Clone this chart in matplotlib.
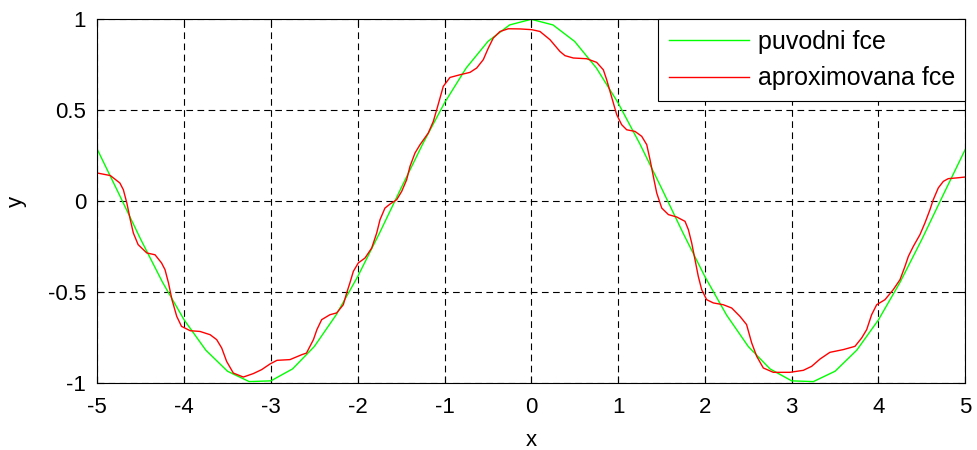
import matplotlib

matplotlib.use("Agg")

import matplotlib.pyplot as plt
import numpy as np


# original function
X_ORIG = [-5.0, -4.75, -4.5, -4.25, -4.0, -3.75, -3.5, -3.25, -3.0, -2.75,
          -2.5, -2.25, -2.0, -1.75, -1.5, -1.25, -1.0, -0.75, -0.5, -0.25,
          0.0, 0.25, 0.5, 0.75, 1.0, 1.25, 1.5, 1.75, 2.0, 2.25,
          2.5, 2.75, 3.0, 3.25, 3.5, 3.75, 4.0, 4.25, 4.5, 4.75, 5.0]
Y_ORIG = [0.284, 0.038, -0.211, -0.446, -0.654, -0.821, -0.937, -0.994, -0.990, -0.924,
          -0.801, -0.628, -0.416, -0.178, 0.071, 0.315, 0.540, 0.732, 0.878, 0.969,
          1.0, 0.969, 0.878, 0.732, 0.540, 0.315, 0.071, -0.178, -0.416, -0.628,
          -0.801, -0.924, -0.990, -0.994, -0.937, -0.821, -0.654, -0.446, -0.211, 0.038, 0.284]

# approximated function
X_APPROX = [-5.0, -4.85, -4.74, -4.70, -4.66, -4.62, -4.585, -4.53, -4.43, -4.335,
            -4.26, -4.22, -4.18, -4.14, -4.085, -4.03, -3.93, -3.817, -3.70, -3.625,
            -3.567, -3.51, -3.433, -3.318, -3.203, -3.106, -3.01, -2.93, -2.78, -2.645,
            -2.59, -2.51, -2.47, -2.415, -2.32, -2.242, -2.166, -2.127, -2.09, -2.05,
            -1.993, -1.916, -1.839, -1.781, -1.743, -1.686, -1.628, -1.551, -1.493, -1.436,
            -1.398, -1.34, -1.282, -1.187, -1.129, -1.09, -1.052, -1.014, -0.937, -0.82,
            -0.706, -0.629, -0.553, -0.495, -0.438, -0.36, -0.265, -0.13, 0.005, 0.10,
            0.215, 0.33, 0.388, 0.484, 0.638, 0.753, 0.83, 0.868, 0.907, 0.945,
            0.984, 1.041, 1.099, 1.195, 1.272, 1.33, 1.368, 1.406, 1.445, 1.503,
            1.58, 1.675, 1.771, 1.81, 1.848, 1.886, 1.924, 1.963, 2.02, 2.097,
            2.212, 2.309, 2.404, 2.48, 2.539, 2.597, 2.673, 2.788, 2.98, 3.134,
            3.23, 3.326, 3.44, 3.594, 3.729, 3.806, 3.864, 3.921, 3.979, 4.075,
            4.17, 4.248, 4.305, 4.344, 4.401, 4.478, 4.535, 4.593, 4.631, 4.689,
            4.747, 4.804, 4.9, 5.0]
Y_APPROX = [0.154, 0.14, 0.099, 0.062, -0.011, -0.103, -0.176, -0.24, -0.286, -0.296,
            -0.341, -0.378, -0.451, -0.543, -0.635, -0.69, -0.714, -0.718, -0.736, -0.763,
            -0.809, -0.883, -0.947, -0.969, -0.950, -0.928, -0.897, -0.877, -0.873, -0.846,
            -0.837, -0.763, -0.708, -0.653, -0.626, -0.616, -0.571, -0.506, -0.451, -0.387,
            -0.341, -0.314, -0.259, -0.176, -0.103, -0.039, -0.017, 0.007, 0.053, 0.117,
            0.19, 0.264, 0.31, 0.374, 0.438, 0.502, 0.567, 0.631, 0.68, 0.695,
            0.708, 0.732, 0.778, 0.842, 0.897, 0.933, 0.948, 0.947, 0.943, 0.933,
            0.888, 0.823, 0.80, 0.787, 0.783, 0.763, 0.722, 0.668, 0.603, 0.539,
            0.475, 0.42, 0.392, 0.383, 0.356, 0.31, 0.227, 0.135, 0.044, -0.039,
            -0.075, -0.088, -0.112, -0.158, -0.231, -0.323, -0.415, -0.488, -0.543, -0.561,
            -0.571, -0.589, -0.635, -0.68, -0.781, -0.855, -0.919, -0.943, -0.943, -0.932,
            -0.91, -0.87, -0.833, -0.818, -0.80, -0.754, -0.708, -0.626, -0.571, -0.543,
            -0.488, -0.433, -0.36, -0.305, -0.25, -0.185, -0.121, -0.048, 0.007, 0.072,
            0.108, 0.123, 0.127, 0.132]

X_TICKS = [-5, -4, -3, -2, -1, 0, 1, 2, 3, 4, 5]
Y_TICKS = [-1, -0.5, 0, 0.5, 1]
Y_TICK_LABELS = ["-1", "-0.5", "0", "0.5", "1"]

plt.rcParams["font.family"] = ["Liberation Sans", "DejaVu Sans"]

fig = plt.figure(figsize=(9.78, 4.5), dpi=100)
ax = fig.add_axes([0.0995, 0.1496, 0.8875, 0.8075])

ax.plot(X_ORIG, Y_ORIG, color="#00ff00", linewidth=1.0, label="puvodni fce")
ax.plot(X_APPROX, Y_APPROX, color="#ff0000", linewidth=1.0, label="aproximovana fce")

ax.set_xlim(-5, 5)
ax.set_ylim(-1, 1)
ax.set_xticks(X_TICKS)
ax.set_xticklabels([str(t) for t in X_TICKS])
ax.set_yticks(Y_TICKS)
ax.set_yticklabels(Y_TICK_LABELS)
ax.tick_params(direction="in", length=5, width=0.8, top=True, right=True,
               labelsize=16, pad=8, colors="black")
ax.tick_params(axis="x", pad=10)
ax.grid(True, color="black", linestyle=(0, (6, 4)), linewidth=0.8)
for spine in ax.spines.values():
    spine.set_linewidth(0.8)

ax.set_xlabel("x", fontsize=16, labelpad=9)
ax.set_ylabel("y", fontsize=16, labelpad=15)

leg = ax.legend(loc="upper right", fontsize=18, frameon=True, fancybox=False,
                edgecolor="black", framealpha=1.0, borderaxespad=0.0,
                handlelength=3.2, handletextpad=0.35, labelspacing=0.5,
                borderpad=0.42)
leg.get_frame().set_linewidth(0.8)

fig.savefig("out.png", dpi=100)
